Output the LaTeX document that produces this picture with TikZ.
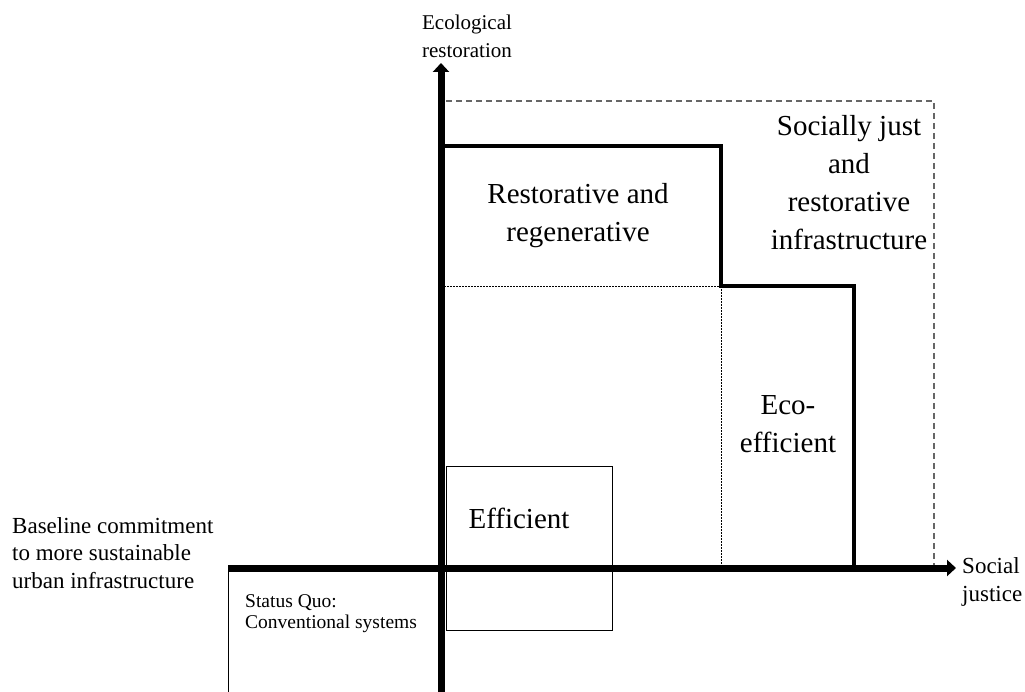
\documentclass[tikz,border=0pt]{standalone}
\usepackage{fontspec}
\setmainfont{Liberation Serif}
\usetikzlibrary{arrows.meta}
\begin{document}
\begin{tikzpicture}[x=1pt,y=-1pt,
  axis/.style={line width=7pt,-{Triangle[length=9pt,width=16pt]}},
  stepline/.style={line width=4pt,line join=miter},
  outer/.style={gray!80!black,line width=1.2pt,dash pattern=on 6pt off 4pt},
  inner/.style={black,line width=0.8pt,dash pattern=on 2pt off 1pt},
  thinbox/.style={draw,line width=1pt},
  big/.style={font=\fontsize{29}{38}\selectfont,align=center,inner sep=0pt},
  mid/.style={font=\fontsize{23}{27.5}\selectfont,align=left,inner sep=0pt},
  small/.style={font=\fontsize{19.5}{21}\selectfont,align=left,inner sep=0pt}]
\useasboundingbox (0,0) rectangle (1025,692);
% coordinates
\coordinate (xs) at (228,568);
\coordinate (xe) at (956,568);
\coordinate (ys) at (441,692);
\coordinate (ye) at (441,63);
% status quo box
\draw[line width=1pt] (228,692) -- (228,568);
% efficient box
\draw[thinbox] (446,466) rectangle (612,630);
% outer dashed
\draw[outer] (446,101) -- (934,101) -- (934,568);
% inner dashed
\draw[inner] (441,286) -- (721,286);
\draw[inner] (721,286) -- (721,568);
% thick step
\draw[stepline] (441,146) -- (721,146) -- (721,286) -- (854,286) -- (854,568);
% axes
\draw[axis] (xs) -- (xe);
\draw[axis] (ys) -- (ye);
% labels
\node[big] (rr) at (578,216) {Restorative and\\regenerative};
\node[big] (sj) at (849,183) {Socially just\\and\\restorative\\infrastructure};
\node[big] (ee) at (788,424) {Eco-\\efficient};
\node[big] (ef) at (519,518) {Efficient};
\node[font=\fontsize{21}{28}\selectfont,align=center,inner sep=0pt] (yl) at (467,36) {Ecological\\restoration};
\node[mid,anchor=west] (xl) at (962,582) {Social\\justice};
\node[mid,anchor=west] (bl) at (12,553) {Baseline commitment\\to more sustainable\\urban infrastructure};
\node[small,anchor=west] (sq) at (245,614) {Status Quo:\\Conventional systems};
\end{tikzpicture}
\end{document}
